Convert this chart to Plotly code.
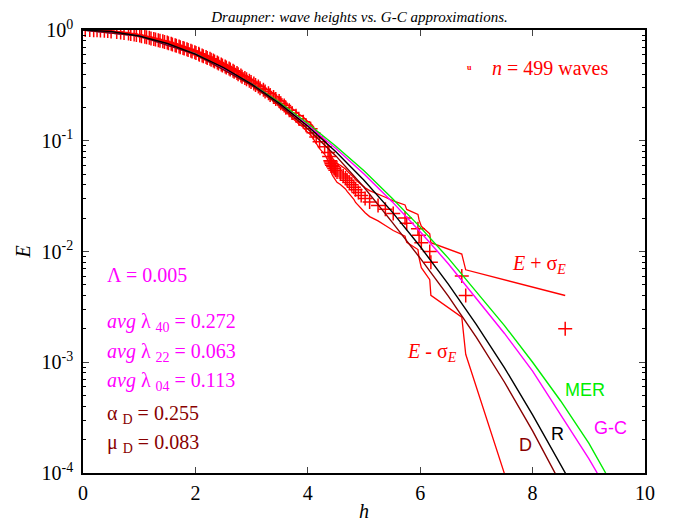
import numpy as np
import plotly.graph_objects as go

# ---------------- data ----------------
n_waves = 499

# empirical wave heights and their exceedance rank (rank / n = exceedance prob.)
emp_h = [0.04, 0.12, 0.19, 0.25, 0.31, 0.38, 0.44, 0.50,
         0.60, 0.67, 0.73, 0.81, 0.85, 0.91, 0.95, 1.01, 1.04, 1.10, 1.13, 1.18,
         1.21, 1.26, 1.29, 1.34, 1.37, 1.42, 1.45, 1.50, 1.52, 1.57, 1.59, 1.64,
         1.66, 1.71, 1.73, 1.78, 1.80, 1.85, 1.87, 1.92, 1.94, 1.99, 2.01, 2.06,
         2.07, 2.12, 2.14, 2.19, 2.21, 2.26, 2.28, 2.32, 2.34, 2.39, 2.41, 2.46,
         2.48, 2.53, 2.55, 2.60, 2.62, 2.67, 2.69, 2.74, 2.76, 2.81, 2.83, 2.88,
         2.91, 2.96, 2.99, 3.04, 3.07, 3.12, 3.15, 3.21, 3.24, 3.30, 3.33, 3.39,
         3.43, 3.49, 3.52, 3.58, 3.61, 3.67, 3.72, 3.79, 3.84, 3.92, 3.97, 4.05,
         4.10, 4.15, 4.21, 4.30, 4.36, 4.38,
         4.40, 4.41, 4.42, 4.43, 4.45, 4.47, 4.49, 4.52, 4.58, 4.63, 4.67, 4.70,
         4.74, 4.78, 4.82, 4.85, 4.90, 4.95, 5.02, 5.10, 5.25, 5.38, 5.52, 5.73,
         5.76, 5.96, 5.98, 6.02, 6.17, 6.19, 6.74, 6.81, 8.58]
emp_rank = [499, 498, 497, 496, 494, 492, 489, 484,
            479, 474, 469, 464, 459, 454, 449, 444, 439, 434, 429, 424,
            419, 414, 409, 404, 399, 394, 389, 384, 379, 374, 369, 364,
            359, 354, 349, 344, 339, 334, 329, 324, 319, 314, 309, 304,
            299, 294, 289, 284, 279, 274, 269, 264, 259, 254, 249, 244,
            239, 234, 229, 224, 219, 214, 209, 204, 199, 194, 189, 184,
            179, 174, 169, 164, 159, 154, 149, 144, 139, 134, 129, 124,
            119, 114, 109, 104, 99, 94, 89, 84, 79, 74, 69, 64,
            59, 54, 49, 44, 39, 36,
            33, 32, 31, 30, 29, 28, 27, 26, 25, 24, 23, 22,
            21, 20, 19, 18, 17, 16, 15, 14, 13, 12, 11, 10,
            9, 8, 7, 6, 5, 4, 3, 2, 1]

# Rayleigh (R)
r_h = [0, 0.5, 1, 1.5, 2, 2.5, 3, 3.5, 4, 4.5, 5, 5.5, 6, 6.5, 7, 7.5, 8, 8.5, 8.8]
r_E = [1, 0.969, 0.8825, 0.755, 0.6065, 0.458, 0.3247, 0.2163, 0.1353, 0.0796,
       0.0439, 0.0228, 0.0111, 0.00507, 0.00219, 0.000891, 0.000335, 0.000117, 0.0000635]

# D
d_h = [0, 1, 2, 3, 3.5, 4, 4.5, 5, 5.5, 6, 6.5, 7, 7.5, 8, 8.5]
d_E = [1, 0.88, 0.603, 0.318, 0.209, 0.128, 0.0730, 0.0380, 0.0184, 0.0087,
       0.00395, 0.00168, 0.00066, 0.00024, 0.000080]

# G-C
gc_h = [0, 1, 2, 3, 3.5, 4, 4.5, 5, 5.5, 6, 6.5, 7, 7.5, 8, 8.5, 9, 9.15]
gc_E = [1, 0.883, 0.607, 0.325, 0.216, 0.138, 0.0851, 0.0501, 0.0282, 0.0151,
        0.00776, 0.0038, 0.00182, 0.000832, 0.000339, 0.000135, 0.0001]

# MER
mer_h = [0, 1, 2, 3, 3.5, 4, 4.5, 5, 5.5, 6, 6.5, 7, 7.5, 8, 8.5, 9, 9.3]
mer_E = [1, 0.883, 0.610, 0.327, 0.221, 0.143, 0.0891, 0.0537, 0.0302, 0.0166,
         0.00871, 0.00437, 0.00214, 0.001, 0.000447, 0.000186, 0.0001]

x_ticks = [0, 2, 4, 6, 8, 10]
y_ticks = [1e-4, 1e-3, 1e-2, 1e-1, 1]
y_ticktext = ["10<sup>-4</sup>", "10<sup>-3</sup>", "10<sup>-2</sup>",
              "10<sup>-1</sup>", "10<sup>0</sup>"]
y_minor = [m * 10.0 ** e for e in (-4, -3, -2, -1) for m in range(2, 10)]

# ---------------- derived ----------------
emp_E = np.array(emp_rank) / n_waves
emp_sig = np.sqrt(emp_E * (1 - emp_E) / n_waves)
emp_up = emp_E + emp_sig
emp_lo = emp_E - emp_sig

RED = "#ff0000"
MAG = "#ff00ff"
GRN = "#00ee00"
MAROON = "#880000"
SERIF = "Liberation Serif, Times New Roman, serif"
SANS = "Liberation Sans, Arial, sans-serif"

fig = go.Figure()
fig.add_trace(go.Scatter(x=emp_h, y=emp_E, mode="markers",
                         marker=dict(symbol="cross-thin", size=10,
                                     line=dict(width=1.5, color=RED)),
                         showlegend=False))
fig.add_trace(go.Scatter(x=emp_h, y=emp_up, mode="lines",
                         line=dict(color=RED, width=1.3), showlegend=False))
fig.add_trace(go.Scatter(x=emp_h, y=emp_lo, mode="lines",
                         line=dict(color=RED, width=1.3), showlegend=False))
fig.add_trace(go.Scatter(x=mer_h, y=mer_E, mode="lines",
                         line=dict(color=GRN, width=1.4), showlegend=False))
fig.add_trace(go.Scatter(x=gc_h, y=gc_E, mode="lines",
                         line=dict(color=MAG, width=1.4), showlegend=False))
fig.add_trace(go.Scatter(x=d_h, y=d_E, mode="lines",
                         line=dict(color=MAROON, width=1.4), showlegend=False))
fig.add_trace(go.Scatter(x=r_h, y=r_E, mode="lines",
                         line=dict(color="black", width=1.4), showlegend=False))

def txt(x, y, s, color, size=20, family=SERIF):
    fig.add_annotation(x=x, y=y, xref="x", yref="y", text=s, showarrow=False,
                       xanchor="left", yanchor="middle",
                       font=dict(family=family, size=size, color=color))

txt(7.25, -0.343, "<i>n</i> = 499 waves", RED)
txt(6.80, -0.343, "<b>u</b>", RED, size=8)
txt(0.39, -2.215, "Λ = 0.005", MAG)
txt(0.39, -2.64, "<i>avg</i> λ <sub>40</sub> = 0.272", MAG)
txt(0.39, -2.91, "<i>avg</i> λ <sub>22</sub> = 0.063", MAG)
txt(0.39, -3.17, "<i>avg</i> λ <sub>04</sub> = 0.113", MAG)
txt(0.39, -3.47, "α <sub>D</sub> = 0.255", MAROON)
txt(0.39, -3.73, "μ <sub>D</sub> = 0.083", MAROON)
txt(7.60, -2.12, "<i>E</i> + σ<sub><i>E</i></sub>", RED)
txt(5.73, -2.91, "<i>E</i> - σ<sub><i>E</i></sub>", RED)
txt(8.54, -3.25, "MER", GRN, size=18, family=SANS)
txt(9.05, -3.59, "G-C", MAG, size=18, family=SANS)
txt(8.29, -3.65, "R", "black", size=18, family=SANS)
txt(7.73, -3.75, "D", MAROON, size=18, family=SANS)

# page body has an 8px default margin, so the figure is offset by 8px
fig.update_layout(
    width=676, height=527,
    margin=dict(l=75, r=39, t=22, b=62, autoexpand=False),
    plot_bgcolor="white", paper_bgcolor="white",
    title=dict(text="<i>Draupner: wave heights vs. G-C approximations.</i>",
               x=0.52, xanchor="center", xref="container",
               y=0.984, yanchor="middle", yref="container",
               font=dict(family=SERIF, size=15, color="black")),
)
fig.update_xaxes(range=[0, 10], tickvals=x_ticks, ticks="inside", ticklen=6,
                 showline=True, linewidth=1.5, linecolor="black", mirror="ticks",
                 showgrid=False, zeroline=False, ticklabelstandoff=1,
                 tickfont=dict(family=SERIF, size=20, color="black"),
                 title=dict(text="<i>h</i>", standoff=1,
                            font=dict(family=SERIF, size=20, color="black")))
fig.update_yaxes(type="log", range=[-4, 0], tickvals=y_ticks, ticktext=y_ticktext,
                 ticks="inside", ticklen=6, showline=True, linewidth=1.5,
                 linecolor="black", mirror="ticks", showgrid=False, zeroline=False,
                 minor=dict(ticks="inside", ticklen=3, tickcolor="black",
                            tickmode="array", tickvals=y_minor, showgrid=False),
                 ticklabelstandoff=4,
                 tickfont=dict(family=SERIF, size=20, color="black"),
                 title=dict(text="<i>E</i>", standoff=6,
                            font=dict(family=SERIF, size=20, color="black")))

fig.write_html("out.html")
